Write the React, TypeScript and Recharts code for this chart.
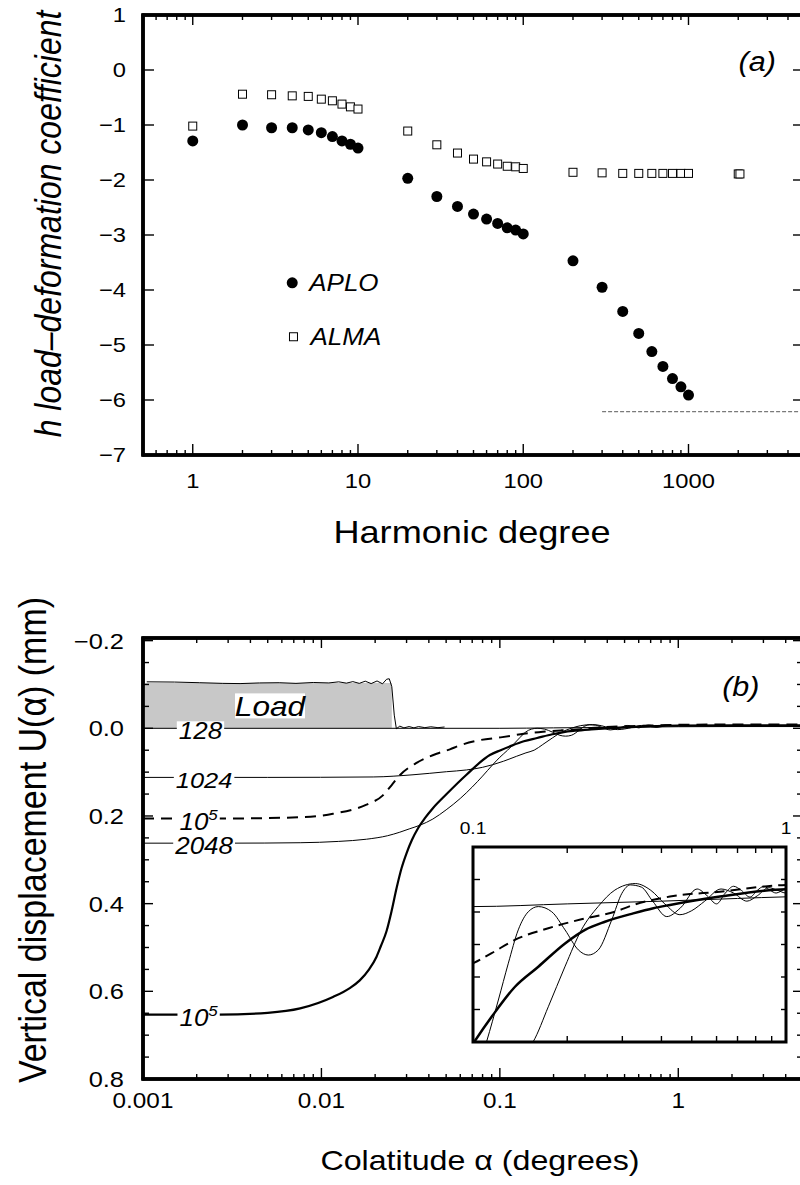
import React from 'react';
import * as R from 'recharts';
import { ComposedChart, Line, Scatter, XAxis, YAxis, ReferenceArea, ReferenceDot, ReferenceLine } from 'recharts';

const FONT = '"Liberation Sans", Arial, Helvetica, sans-serif';
const SX = 1.13; // horizontal stretch of the original figure's lettering

// ---------------- Panel (a) data ----------------
const degreesAPLO = [1, 2, 3, 4, 5, 6, 7, 8, 9, 10, 20, 30, 40, 50, 60, 70, 80, 90, 100, 200, 300, 400, 500, 600, 700, 800, 900, 1000];
const hAPLO = [-1.29, -1.0, -1.05, -1.05, -1.09, -1.14, -1.21, -1.29, -1.35, -1.42, -1.97, -2.3, -2.48, -2.62, -2.71, -2.79, -2.87, -2.91, -2.98, -3.47, -3.95, -4.39, -4.79, -5.12, -5.39, -5.61, -5.76, -5.91];
const degreesALMA = [1, 2, 3, 4, 5, 6, 7, 8, 9, 10, 20, 30, 40, 50, 60, 70, 80, 90, 100, 200, 300, 400, 500, 600, 700, 800, 900, 1000, 2000, 2048];
const hALMA = [-1.02, -0.44, -0.45, -0.47, -0.48, -0.53, -0.56, -0.62, -0.67, -0.71, -1.11, -1.36, -1.51, -1.62, -1.67, -1.71, -1.75, -1.76, -1.79, -1.86, -1.87, -1.88, -1.88, -1.88, -1.88, -1.88, -1.88, -1.88, -1.89, -1.89];
const asymptoteDegrees = [300, 5000];
const asymptoteH = [-6.21, -6.21];

const xDomainA = [0.5, 5000];
const yDomainA = [-7, 1];
const xTicksA = [0.6, 0.7, 0.8, 0.9, 1, 2, 3, 4, 5, 6, 7, 8, 9, 10, 20, 30, 40, 50, 60, 70, 80, 90, 100, 200, 300, 400, 500, 600, 700, 800, 900, 1000, 2000, 3000, 4000, 5000];
const xMajorA = [1, 10, 100, 1000];
const xMajorLabelsA = ['1', '10', '100', '1000'];
const yTicksA = [-7, -6, -5, -4, -3, -2, -1, 0, 1];
const yLabelsA = ['\u22127', '\u22126', '\u22125', '\u22124', '\u22123', '\u22122', '\u22121', '0', '1'];

// ---------------- Panel (b) data ----------------
const alpha128 = [0.001, 0.1, 0.2, 0.4, 0.7, 1, 2, 5];
const u128 = [0.0, 0.0, -0.001, -0.002, -0.003, -0.0036, -0.004, -0.004];

const alpha1024 = [0.001, 0.005, 0.0195, 0.0326, 0.0503, 0.065, 0.08, 0.0912, 0.105, 0.1237, 0.14, 0.1557, 0.174, 0.197, 0.222, 0.251, 0.284, 0.33, 0.37, 0.41, 0.458, 0.5, 0.55, 0.62, 0.68, 0.75, 0.81, 0.88, 0.94, 1.0, 2.0, 5.0];
const u1024 = [0.112, 0.112, 0.111, 0.106, 0.099, 0.095, 0.089, 0.083, 0.075, 0.064, 0.056, 0.0499, 0.037, 0.022, 0.0086, 0.0, -0.0061, -0.0085, -0.006, -0.001, 0.003, 0.0015, -0.002, -0.0065, -0.005, -0.002, -0.004, -0.007, -0.006, -0.005, -0.0055, -0.0055];

const alpha2048 = [0.001, 0.003, 0.0076, 0.0125, 0.0179, 0.0235, 0.0275, 0.0313, 0.0357, 0.0421, 0.05, 0.06, 0.07, 0.08, 0.0912, 0.1, 0.1105, 0.1205, 0.1297, 0.1395, 0.1502, 0.1617, 0.1784, 0.1968, 0.2171, 0.2336, 0.2514, 0.2775, 0.299, 0.318, 0.345, 0.375, 0.416, 0.46, 0.52, 0.56, 0.6, 0.64, 0.68, 0.72, 0.767, 0.81, 0.85, 0.89, 0.93, 1.0, 2.0, 5.0];
const u2048 = [0.262, 0.262, 0.261, 0.258, 0.253, 0.245, 0.237, 0.229, 0.221, 0.207, 0.186, 0.16, 0.134, 0.109, 0.083, 0.066, 0.0499, 0.0345, 0.0209, 0.0086, 0.0019, 0.0, 0.0019, 0.0086, 0.016, 0.0179, 0.016, 0.0049, -0.0049, -0.008, -0.0072, -0.002, 0.0037, 0.0005, -0.0065, -0.004, -0.001, -0.005, -0.0075, -0.006, -0.0035, -0.006, -0.0075, -0.006, -0.005, -0.0065, -0.0055, -0.0055];

const alphaFullDashed = [0.001, 0.00247, 0.0076, 0.0116, 0.0179, 0.0221, 0.0247, 0.0275, 0.0341, 0.0442, 0.0525, 0.0597, 0.0773, 0.101, 0.1147, 0.136, 0.174, 0.222, 0.284, 0.325, 0.426, 0.615, 1.0, 2.0, 5.0];
const uFullDashed = [0.206, 0.206, 0.203, 0.195, 0.174, 0.153, 0.13, 0.107, 0.079, 0.058, 0.048, 0.039, 0.027, 0.0207, 0.0172, 0.0123, 0.008, 0.0047, 0.0019, -0.0006, -0.0037, -0.0055, -0.008, -0.0085, -0.0085];

const alphaFullThick = [0.001, 0.00267, 0.005, 0.0076, 0.0116, 0.0145, 0.0164, 0.0185, 0.02037, 0.02154, 0.02318, 0.02473, 0.02638, 0.02814, 0.03002, 0.03214, 0.03486, 0.03801, 0.04214, 0.0503, 0.065, 0.0879, 0.101, 0.1147, 0.1362, 0.1617, 0.1968, 0.228, 0.264, 0.325, 0.377, 0.426, 0.615, 1.0, 2.0, 5.0];
const uFullThick = [0.653, 0.653, 0.649, 0.639, 0.613, 0.592, 0.575, 0.55, 0.521, 0.4966, 0.4624, 0.4168, 0.3643, 0.3187, 0.2845, 0.2548, 0.2274, 0.205, 0.1823, 0.15, 0.106, 0.0609, 0.0499, 0.0407, 0.0296, 0.0222, 0.0136, 0.0086, 0.0056, 0.0025, 0.0006, -0.0006, -0.0037, -0.0064, -0.0066, -0.0066];

const alphaLoad = [0.00105, 0.0015, 0.00208, 0.0028, 0.0035, 0.0045, 0.0058, 0.0072, 0.009, 0.011, 0.0125, 0.0138, 0.015, 0.0163, 0.0176, 0.019, 0.0205, 0.022, 0.0232, 0.024, 0.0248, 0.0256, 0.0263, 0.0275, 0.029, 0.031, 0.033, 0.035, 0.038, 0.041, 0.045, 0.049];
const uLoad = [-0.106, -0.1055, -0.104, -0.1025, -0.102, -0.1035, -0.104, -0.1025, -0.1045, -0.1035, -0.106, -0.103, -0.1065, -0.1025, -0.1075, -0.102, -0.108, -0.1015, -0.112, -0.113, -0.095, -0.03, 0.001, -0.005, -0.001, -0.004, -0.001, -0.004, -0.0015, -0.0035, -0.0015, -0.003];
const loadExtent = [0.001, 0.0248];
const loadHeight = -0.1034;

const xDomainB = [0.001, 5];
const yDomainB = [-0.206, 0.8];
const xTicksB = [0.001, 0.002, 0.003, 0.004, 0.005, 0.006, 0.007, 0.008, 0.009, 0.01, 0.02, 0.03, 0.04, 0.05, 0.06, 0.07, 0.08, 0.09, 0.1, 0.2, 0.3, 0.4, 0.5, 0.6, 0.7, 0.8, 0.9, 1, 2, 3, 4, 5];
const xMajorB = [0.001, 0.01, 0.1, 1];
const xMajorLabelsB = ['0.001', '0.01', '0.1', '1'];
const yTicksB = [-0.2, -0.15, -0.1, -0.05, 0, 0.05, 0.1, 0.15, 0.2, 0.25, 0.3, 0.35, 0.4, 0.45, 0.5, 0.55, 0.6, 0.65, 0.7, 0.75, 0.8];
const yMajorB = [-0.2, 0, 0.2, 0.4, 0.6, 0.8];
const yMajorLabelsB = ['\u22120.2', '0.0', '0.2', '0.4', '0.6', '0.8'];

const xDomainInset = [0.1, 1];
const yDomainInset = [-0.022, 0.05];
const insetXTicks = [0.1, 0.2, 0.3, 0.4, 0.5, 0.6, 0.7, 0.8, 0.9, 1];
const insetXMajor = [0.1, 1];
const insetXMajorLabels = ['0.1', '1'];
const insetYTicks = [-0.022, -0.01, 0.002, 0.014, 0.026, 0.038, 0.05];

// ---------------- helpers ----------------
const zip = (xs: number[], ys: number[], kx: string, ky: string) => xs.map((x, i) => ({ [kx]: x, [ky]: ys[i] }));
const idxOf = (arr: number[], v: number) => arr.findIndex((m) => Math.abs(m - v) <= Math.abs(m) * 1e-6 + 1e-9);

function T(p: { x: number; y: number; size: number; anchor?: string; italic?: boolean; rot?: boolean; children: any }) {
  const tf = p.rot ? `translate(${p.x},${p.y}) rotate(-90) scale(1,${SX})` : `translate(${p.x},${p.y}) scale(${SX},1)`;
  return (
    <text transform={tf} x={0} y={0} fontSize={p.size} fontFamily={FONT} fontStyle={p.italic ? 'italic' : 'normal'} textAnchor={(p.anchor as any) || 'middle'} fill="#000">
      {p.children}
    </text>
  );
}

type TickOpts = {
  side: 'top' | 'bottom' | 'left' | 'right';
  ticks: number[];
  majors: number[] | null; // null => all major
  labels?: string[];
  majorLen: number;
  minorLen: number;
  font?: number;
  off?: number;
};

function makeTick(o: TickOpts) {
  return (props: any) => {
    const { x, y, payload } = props;
    const v = payload.value as number;
    const mi = o.majors ? idxOf(o.majors, v) : idxOf(o.ticks, v);
    const major = !o.majors || mi >= 0;
    const len = major ? o.majorLen : o.minorLen;
    let x2 = x;
    let y2 = y;
    if (o.side === 'bottom') y2 = y - len;
    if (o.side === 'top') y2 = y + len;
    if (o.side === 'left') x2 = x + len;
    if (o.side === 'right') x2 = x - len;
    let lab: any = null;
    if (o.labels && o.font && mi >= 0) {
      const s = o.labels[mi];
      if (s) {
        if (o.side === 'bottom') lab = <T x={x} y={y + (o.off || 0)} size={o.font}>{s}</T>;
        if (o.side === 'top') lab = <T x={x} y={y - (o.off || 0)} size={o.font}>{s}</T>;
        if (o.side === 'left') lab = <T x={x - (o.off || 0)} y={y + o.font * 0.35} size={o.font} anchor="end">{s}</T>;
      }
    }
    return (
      <g>
        {len > 0 && <line x1={x} y1={y} x2={x2} y2={y2} stroke="#000" strokeWidth={1.4} />}
        {lab}
      </g>
    );
  };
}

const axisLineStyle = { stroke: '#000', strokeWidth: 3, strokeLinecap: 'square' as const };
const axisCommon = { type: 'number' as const, allowDataOverflow: true, interval: 0 as const, tickSize: 0, tickMargin: 0, tickLine: false, axisLine: axisLineStyle, stroke: '#000' };

// Frame of the plot area drawn from the chart's own plot-area hook when available
function PlotFrame() {
  const hook = (R as any).usePlotArea;
  const pa = hook ? hook() : null;
  if (!pa) return null;
  return <rect x={pa.x} y={pa.y} width={pa.width} height={pa.height} fill="none" stroke="#000" strokeWidth={3} />;
}

function FrameLines(p: { xd: number[]; yd: number[] }) {
  return null;
}

function frame(xd: number[], yd: number[]) {
  return [
    <ReferenceLine key="fl" x={xd[0]} stroke="#000" strokeWidth={3} ifOverflow="visible" />,
    <ReferenceLine key="fr" x={xd[1]} stroke="#000" strokeWidth={3} ifOverflow="visible" />,
    <ReferenceLine key="fb" y={yd[0]} stroke="#000" strokeWidth={3} ifOverflow="visible" />,
    <ReferenceLine key="ft" y={yd[1]} stroke="#000" strokeWidth={3} ifOverflow="visible" />,
    <ReferenceArea key="fa" x1={xd[0]} x2={xd[1]} y1={yd[0]} y2={yd[1]} fill="none" stroke="#000" strokeWidth={3} ifOverflow="visible" />,
    <PlotFrame key="pf" />,
  ];
}

function curveLabel(text: string, fs: number, sup?: string) {
  return (p: any) => {
    const { cx, cy } = p;
    const w = (text.length * 0.556 * fs + (sup ? 0.556 * fs * 0.65 : 0)) * SX + 4;
    return (
      <g>
        <rect x={cx - w / 2} y={cy - 7} width={w} height={14} fill="#fff" />
        <text transform={`translate(${cx},${cy + fs * 0.35 + 3}) scale(${SX},1)`} fontSize={fs} fontFamily={FONT} fontStyle="italic" textAnchor="middle" fill="#000">
          {text}
          {sup && (
            <tspan dy={-fs * 0.42} fontSize={fs * 0.65}>
              {sup}
            </tspan>
          )}
        </text>
      </g>
    );
  };
}

function note(text: string, fs: number) {
  return (p: any) => (
    <T x={p.cx} y={p.cy + fs * 0.35} size={fs} italic>
      {text}
    </T>
  );
}

function legendMark(kind: 'circle' | 'square', text: string) {
  return (p: any) => (
    <g>
      {kind === 'circle' ? (
        <circle cx={p.cx} cy={p.cy} r={5.5} fill="#000" />
      ) : (
        <rect x={p.cx - 4} y={p.cy - 4} width={8} height={8} fill="#fff" stroke="#000" strokeWidth={1} />
      )}
      <T x={p.cx + 17} y={p.cy + 23 * 0.35} size={23} anchor="start" italic>
        {text}
      </T>
    </g>
  );
}

// ---------------- Panel (a) ----------------
function PanelA() {
  const aplo = zip(degreesAPLO, hAPLO, 'n', 'h');
  const alma = zip(degreesALMA, hALMA, 'n', 'h');
  const asym = zip(asymptoteDegrees, asymptoteH, 'n', 'h');
  return (
    <ComposedChart width={820} height={560} margin={{ top: 14, right: 15, bottom: 75, left: 83 }}>
      <XAxis xAxisId={0} dataKey="n" scale="log" domain={xDomainA} ticks={xTicksA} height={30} {...axisCommon}
        tick={makeTick({ side: 'bottom', ticks: xTicksA, majors: xMajorA, labels: xMajorLabelsA, majorLen: 11, minorLen: 5, font: 21, off: 32.5 })} />
      <XAxis xAxisId="top" orientation="top" dataKey="n" scale="log" domain={xDomainA} ticks={xTicksA} height={1} {...axisCommon}
        tick={makeTick({ side: 'top', ticks: xTicksA, majors: xMajorA, majorLen: 10, minorLen: 5 })} />
      <YAxis yAxisId={0} dataKey="h" domain={yDomainA} ticks={yTicksA} width={60} {...axisCommon}
        tick={makeTick({ side: 'left', ticks: yTicksA, majors: null, labels: yLabelsA, majorLen: 11, minorLen: 11, font: 21, off: 17 })} />
      <YAxis yAxisId="right" orientation="right" dataKey="h" domain={yDomainA} ticks={yTicksA} width={1} {...axisCommon}
        tick={makeTick({ side: 'right', ticks: yTicksA, majors: null, majorLen: 11, minorLen: 11 })} />
      {frame(xDomainA, yDomainA)}
      <Line data={asym} dataKey="h" stroke="#7a7a7a" strokeWidth={1.3} strokeDasharray="4 2" dot={false} isAnimationActive={false} type="linear" />
      <Scatter data={alma} dataKey="h" isAnimationActive={false}
        shape={(p: any) => <rect x={p.cx - 4} y={p.cy - 4} width={8} height={8} fill="#fff" stroke="#000" strokeWidth={1} />} />
      <Scatter data={aplo} dataKey="h" isAnimationActive={false} shape={(p: any) => <circle cx={p.cx} cy={p.cy} r={5.5} fill="#000" />} />
      <ReferenceDot x={4.0} y={-3.87} r={0} shape={legendMark('circle', 'APLO')} />
      <ReferenceDot x={4.07} y={-4.85} r={0} shape={legendMark('square', 'ALMA')} />
      <ReferenceDot x={2606} y={0.145} r={0} shape={note('(a)', 27)} />
    </ComposedChart>
  );
}

// ---------------- Panel (b) ----------------
function curveLines(thin: number, thick: number, dash: string, thickW: number) {
  return [
    <Line key="c128" data={zip(alpha128, u128, 'a', 'u')} dataKey="u" stroke="#000" strokeWidth={thin} dot={false} isAnimationActive={false} type="monotone" />,
    <Line key="c1024" data={zip(alpha1024, u1024, 'a', 'u')} dataKey="u" stroke="#000" strokeWidth={thin} dot={false} isAnimationActive={false} type="monotone" />,
    <Line key="c2048" data={zip(alpha2048, u2048, 'a', 'u')} dataKey="u" stroke="#000" strokeWidth={thin} dot={false} isAnimationActive={false} type="monotone" />,
    <Line key="cfd" data={zip(alphaFullDashed, uFullDashed, 'a', 'u')} dataKey="u" stroke="#000" strokeWidth={thick} strokeDasharray={dash} dot={false} isAnimationActive={false} type="monotone" />,
    <Line key="cft" data={zip(alphaFullThick, uFullThick, 'a', 'u')} dataKey="u" stroke="#000" strokeWidth={thickW} dot={false} isAnimationActive={false} type="monotone" />,
  ];
}

function PanelB() {
  const load = zip(alphaLoad, uLoad, 'a', 'u');
  return (
    <ComposedChart width={820} height={625} margin={{ top: 77, right: 16, bottom: 76, left: 83 }}>
      <XAxis xAxisId={0} dataKey="a" scale="log" domain={xDomainB} ticks={xTicksB} height={30} {...axisCommon}
        tick={makeTick({ side: 'bottom', ticks: xTicksB, majors: xMajorB, labels: xMajorLabelsB, majorLen: 11, minorLen: 5, font: 21.5, off: 28.5 })} />
      <XAxis xAxisId="top" orientation="top" dataKey="a" scale="log" domain={xDomainB} ticks={xTicksB} height={1} {...axisCommon}
        tick={makeTick({ side: 'top', ticks: xTicksB, majors: xMajorB, majorLen: 10, minorLen: 5 })} />
      <YAxis yAxisId={0} dataKey="u" reversed domain={yDomainB} ticks={yTicksB} width={60} {...axisCommon}
        tick={makeTick({ side: 'left', ticks: yTicksB, majors: yMajorB, labels: yMajorLabelsB, majorLen: 10, minorLen: 6, font: 22.5, off: 19 })} />
      <YAxis yAxisId="right" orientation="right" dataKey="u" reversed domain={yDomainB} ticks={yTicksB} width={1} {...axisCommon}
        tick={makeTick({ side: 'right', ticks: yTicksB, majors: yMajorB, majorLen: 10, minorLen: 6 })} />
      <ReferenceArea x1={loadExtent[0]} x2={loadExtent[1]} y1={0} y2={loadHeight} fill="#c8c8c8" fillOpacity={1} stroke="none" />
      {frame(xDomainB, yDomainB)}
      <Line data={load} dataKey="u" stroke="#000" strokeWidth={1} dot={false} isAnimationActive={false} type="linear" />
      {curveLines(1, 2, '11 7', 2.2)}
      <ReferenceDot x={0.00515} y={-0.05} r={0} shape={(p: any) => (
        <g>
          <rect x={p.cx - 35} y={p.cy - 13} width={70} height={25} fill="#fff" />
          <T x={p.cx} y={p.cy + 10} size={28} italic>Load</T>
        </g>
      )} />
      <ReferenceDot x={0.0021} y={0.0} r={0} shape={curveLabel('128', 23)} />
      <ReferenceDot x={0.0022} y={0.112} r={0} shape={curveLabel('1024', 22.5)} />
      <ReferenceDot x={0.00205} y={0.206} r={0} shape={curveLabel('10', 23, '5')} />
      <ReferenceDot x={0.0022} y={0.262} r={0} shape={curveLabel('2048', 23)} />
      <ReferenceDot x={0.00205} y={0.653} r={0} shape={curveLabel('10', 23, '5')} />
      <ReferenceDot x={2.24} y={-0.096} r={0} shape={note('(b)', 27)} />
    </ComposedChart>
  );
}

function Inset() {
  return (
    <ComposedChart width={363} height={235} margin={{ top: 29, right: 19, bottom: 9, left: 29 }}>
      <XAxis xAxisId={0} dataKey="a" scale="log" domain={xDomainInset} ticks={insetXTicks} height={1} {...axisCommon} axisLine={false}
        tick={makeTick({ side: 'bottom', ticks: insetXTicks, majors: insetXMajor, majorLen: 0, minorLen: 6 })} />
      <XAxis xAxisId="top" orientation="top" dataKey="a" scale="log" domain={xDomainInset} ticks={insetXTicks} height={1} {...axisCommon} axisLine={false}
        tick={makeTick({ side: 'top', ticks: insetXTicks, majors: insetXMajor, labels: insetXMajorLabels, majorLen: 0, minorLen: 6, font: 17, off: 13 })} />
      <YAxis yAxisId={0} dataKey="u" reversed domain={yDomainInset} ticks={insetYTicks} width={1} {...axisCommon} axisLine={false}
        tick={makeTick({ side: 'left', ticks: insetYTicks, majors: null, majorLen: 7, minorLen: 7 })} />
      <YAxis yAxisId="right" orientation="right" dataKey="u" reversed domain={yDomainInset} ticks={insetYTicks} width={1} {...axisCommon} axisLine={false}
        tick={makeTick({ side: 'right', ticks: insetYTicks, majors: null, majorLen: 5, minorLen: 5 })} />
      <ReferenceArea x1={xDomainInset[0]} x2={xDomainInset[1]} y1={yDomainInset[0]} y2={yDomainInset[1]} fill="none" stroke="#000" strokeWidth={3} ifOverflow="visible" />
      {curveLines(1, 2, '10 6', 2.5)}
    </ComposedChart>
  );
}

export default function App() {
  return (
    <div style={{ position: 'absolute', left: 0, top: 0, width: 800, height: 1185, overflow: 'hidden', background: '#fff' }}>
      <div style={{ position: 'absolute', left: 0, top: 0 }}>
        <PanelA />
      </div>
      <div style={{ position: 'absolute', left: 0, top: 560 }}>
        <PanelB />
      </div>
      <div style={{ position: 'absolute', left: 443, top: 817 }}>
        <Inset />
      </div>
      <svg width={800} height={1185} style={{ position: 'absolute', left: 0, top: 0, pointerEvents: 'none' }}>
        <T x={61} y={224} size={32} rot italic>h load{'\u2013'}deformation coefficient</T>
        <T x={472} y={543} size={32}>Harmonic degree</T>
        <T x={46} y={840} size={34} rot>Vertical displacement U({'\u03b1'}) (mm)</T>
        <T x={480} y={1170} size={28.5}>Colatitude {'\u03b1'} (degrees)</T>
      </svg>
    </div>
  );
}
